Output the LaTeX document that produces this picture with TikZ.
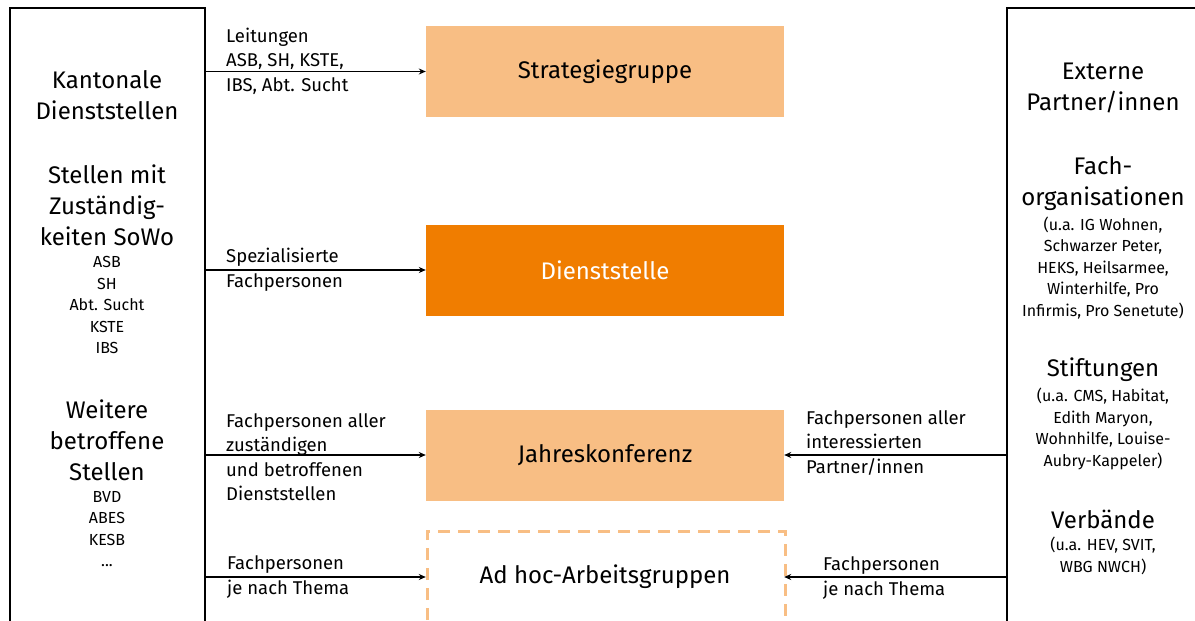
\documentclass[tikz,border=0pt]{standalone}
\usepackage{fontspec}
\setmainfont{Fira Sans}
\usetikzlibrary{arrows.meta}
\definecolor{lightor}{HTML}{F8BE84}
\definecolor{darkor}{HTML}{F07D00}
\tikzset{
  panel/.style={line width=1.8pt},
  box/.style={minimum width=358pt, minimum height=91pt, inner sep=0pt, font=\fontsize{24}{28}\selectfont},
  lbl/.style={align=left, inner sep=0pt, font=\fontsize{18.5}{24.5}\selectfont},
  big/.style={align=center, inner sep=0pt, font=\fontsize{24}{31}\selectfont},
  small/.style={align=center, inner sep=0pt, font=\fontsize{16}{21.5}\selectfont},
  conn/.style={line width=1.6pt, -{Stealth[length=7pt,width=6pt]}}
}
\begin{document}
\begin{tikzpicture}[x=1pt,y=-1pt]
\useasboundingbox (0,0) rectangle (1195,621);
% panels
\node[minimum width=195pt, minimum height=613pt, inner sep=0pt] (L) at (107.5,314.5) {};
\node[minimum width=195pt, minimum height=613pt, inner sep=0pt] (R) at (1104.5,314.5) {};
\draw[panel] (10,621) -- (10,8) -- (205,8) -- (205,621);
\draw[panel] (1195,8) -- (1007,8) -- (1007,621);
% boxes
\node[box, fill=lightor] (S) at (605,71.5) {Strategiegruppe};
\node[box, fill=darkor, text=white] (D) at (605,270) {Dienststelle};
\node[box, fill=lightor] (J) at (605,455) {Jahreskonferenz};
\draw[lightor, line width=3pt, dash pattern=on 12pt off 8pt] (427,640) -- (427,531) -- (785,531) -- (785,640);
\node[box] (A) at (605,577) {Ad hoc-Arbeitsgruppen};
% left panel text
\node[big] (l1) at (107,95) {Kantonale\\Dienststellen};
\node[big] (l2) at (107,205) {Stellen mit\\Zuständig-\\keiten SoWo};
\node[small] (l3) at (107,305) {ASB\\SH\\Abt. Sucht\\KSTE\\IBS};
\node[big] (l4) at (107,440) {Weitere\\betroffene\\Stellen};
\node[small] (l5) at (107,529) {BVD\\ABES\\KESB\\...};
% right panel text
\node[big] (r1) at (1103,88) {Externe\\Partner/innen};
\node[big] (r2) at (1103,184) {Fach-\\organisationen};
\node[small] (r3) at (1103,268) {(u.a. IG Wohnen,\\Schwarzer Peter,\\HEKS, Heilsarmee,\\Winterhilfe, Pro\\Infirmis, Pro Senetute)};
\node[big] (r4) at (1103,370) {Stiftungen};
\node[small] (r5) at (1103,429) {(u.a. CMS, Habitat,\\Edith Maryon,\\Wohnhilfe, Louise-\\Aubry-Kappeler)};
\node[big] (r6) at (1103,519) {Verbände};
\node[small] (r7) at (1103,556) {(u.a. HEV, SVIT,\\WBG NWCH)};
% connectors
\draw[conn] (L.east |- S.west) -- (S.west);
\draw[conn] (L.east |- D.west) -- (D.west);
\draw[conn] (L.east |- J.west) -- (J.west);
\draw[conn] (L.east |- A.west) -- (A.west);
\draw[conn] (R.west |- J.east) -- (J.east);
\draw[conn] (R.west |- A.east) -- (A.east);
% labels
\node[lbl, anchor=west] (t1) at (226,61) {Leitungen\\ASB, SH, KSTE,\\IBS, Abt. Sucht};
\node[lbl, anchor=west] (t2) at (226,270) {Spezialisierte\\Fachpersonen};
\node[lbl, anchor=west] (t3) at (226,457) {Fachpersonen aller\\zuständigen\\und betroffenen\\Dienststellen};
\node[lbl, anchor=west] (t4) at (227,577) {Fachpersonen\\je nach Thema};
\node[lbl, anchor=west] (t5) at (806,443) {Fachpersonen aller\\interessierten\\Partner/innen};
\node[lbl, anchor=west] (t6) at (823,578) {Fachpersonen\\je nach Thema};
\end{tikzpicture}
\end{document}
